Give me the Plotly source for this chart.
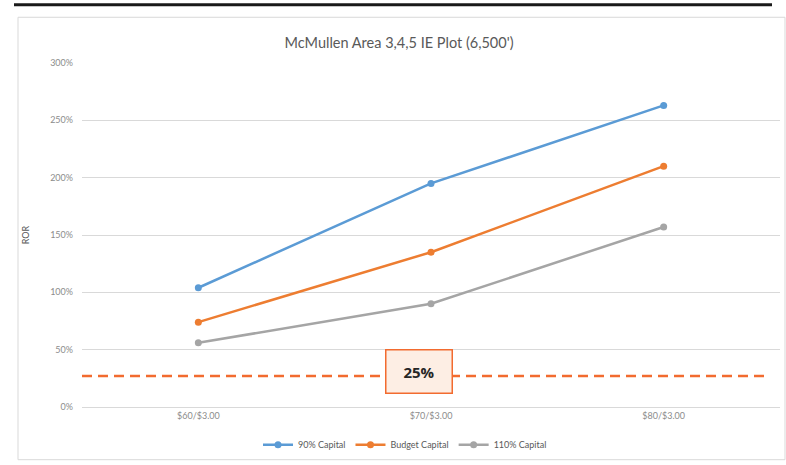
import plotly.graph_objects as go

categories = ["$60/$3.00", "$70/$3.00", "$80/$3.00"]
capital_90 = [104, 195, 263]
capital_budget = [74, 135, 210]
capital_110 = [56, 90, 157]
hurdle_value = 27
hurdle_label = "25%"
y_ticks = [0, 50, 100, 150, 200, 250, 300]
y_tick_text = ["0%", "50%", "100%", "150%", "200%", "250%", "300%"]

series = [
    ("90% Capital", capital_90, "#5B9BD5"),
    ("Budget Capital", capital_budget, "#ED7D31"),
    ("110% Capital", capital_110, "#A5A5A5"),
]

FONT = "Lato, Open Sans, sans-serif"
fig = go.Figure()
for name, vals, color in series:
    fig.add_trace(go.Scatter(
        x=categories, y=vals, name=name, mode="lines+markers",
        line=dict(color=color, width=2.5),
        marker=dict(color=color, size=7),
    ))

L, R, T, B = 82, 6, 63, 56
W, H = 786, 465
pw, ph = W - L - R, H - T - B

def px_x(p):
    return (p - L) / pw

def px_y(p):
    return (H - B - p) / ph

shapes = [
    dict(type="rect", xref="paper", yref="paper",
         x0=px_x(18), x1=px_x(785), y0=px_y(462), y1=px_y(17),
         line=dict(color="#D9D9D9", width=1), layer="below"),
    dict(type="line", xref="paper", yref="paper",
         x0=px_x(14), x1=px_x(772), y0=px_y(4.5), y1=px_y(4.5),
         line=dict(color="#1a1a1a", width=3)),
    dict(type="line", xref="paper", yref="y",
         x0=0, x1=px_x(770), y0=hurdle_value, y1=hurdle_value,
         line=dict(color="#F26B2F", width=2.5, dash="10px,6px")),
]

fig.update_layout(
    width=W, height=H,
    margin=dict(l=L, r=R, t=T, b=B),
    paper_bgcolor="white", plot_bgcolor="white",
    font=dict(family=FONT, color="#8C8C8C", size=9),
    title=dict(text="McMullen Area 3,4,5 IE Plot (6,500')",
               x=px_x(399), xanchor="center", xref="paper", y=1 - 43 / H, yanchor="middle",
               font=dict(size=14.5, color="#595959", family=FONT)),
    xaxis=dict(type="category", range=[-0.5, 2.5], showgrid=False,
               showline=True, linecolor="#D9D9D9", linewidth=1,
               ticks="", tickfont=dict(size=9, color="#8C8C8C"), zeroline=False),
    yaxis=dict(range=[0, 300], tickvals=y_ticks, ticktext=y_tick_text,
               showgrid=True, gridcolor="#D9D9D9", gridwidth=1, zeroline=False,
               ticks="", ticklabelstandoff=8,
               tickfont=dict(size=9, color="#8C8C8C"),
               title=dict(text="ROR", font=dict(size=9, color="#595959"), standoff=18)),
    legend=dict(orientation="h", x=px_x(405), xanchor="center", y=px_y(447), yanchor="middle",
                font=dict(size=9, color="#595959"), itemwidth=30),
    shapes=shapes,
    annotations=[dict(
        text="<b>" + hurdle_label + "</b>", xref="paper", yref="paper",
        x=px_x(418.5), y=px_y(373.5), xanchor="center", yanchor="middle",
        showarrow=False,
        font=dict(size=15, color="#262626", family="Open Sans, sans-serif"),
        bgcolor="#FDEEE4", bordercolor="#F26B2F", borderwidth=1.5,
        width=63, height=40,
    )],
)

fig.write_html("out.html", config={"displayModeBar": False},
               post_script="document.body.style.margin='0';")
